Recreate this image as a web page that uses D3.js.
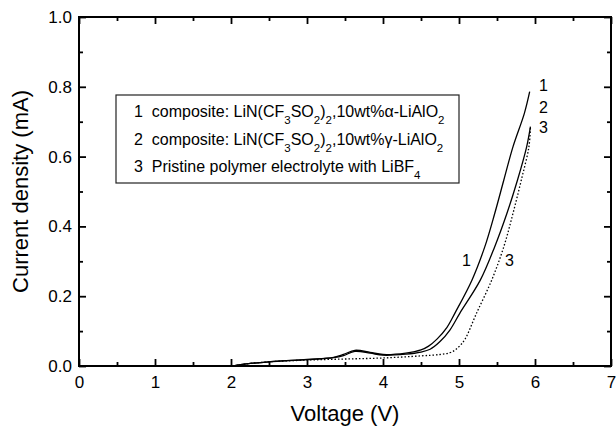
<!DOCTYPE html>
<html>
<head>
<meta charset="utf-8">
<script src="https://cdn.jsdelivr.net/npm/d3@7"></script>
<style>
  body { margin: 0; background: #fff; }
  svg { display: block; font-family: "Liberation Sans", Arial, Helvetica, sans-serif; }
  .tick text { font-size: 17px; fill: #000; }
  .tick line { stroke: #000; stroke-width: 1.8; }
</style>
</head>
<body>
<div class="wrapper"></div>
<script>
// ---- data ----
const xMajor = [0, 1, 2, 3, 4, 5, 6, 7];
const xMinor = [0.5, 1.5, 2.5, 3.5, 4.5, 5.5, 6.5];
const yMajor = [0, 0.2, 0.4, 0.6, 0.8, 1.0];
const yMinor = [0.1, 0.3, 0.5, 0.7, 0.9];

// curve 1 : composite alpha-LiAlO2
const volt1 = [2.03, 2.2, 2.5, 3.0, 3.35, 3.48, 3.63, 3.83, 4.0, 4.3, 4.5, 4.6, 4.71, 4.84, 4.95, 5.17, 5.34, 5.47, 5.59, 5.71, 5.86, 5.93];
const curr1 = [0, 0.006, 0.012, 0.019, 0.025, 0.033, 0.045, 0.039, 0.033, 0.037, 0.046, 0.057, 0.077, 0.110, 0.153, 0.246, 0.342, 0.437, 0.533, 0.628, 0.724, 0.786];

// curve 2 : composite gamma-LiAlO2
const volt2 = [2.03, 2.2, 2.5, 3.0, 3.35, 3.48, 3.63, 3.83, 4.0, 4.3, 4.5, 4.62, 4.75, 4.88, 5.01, 5.28, 5.47, 5.63, 5.77, 5.89, 5.94];
const curr2 = [0, 0.006, 0.012, 0.018, 0.024, 0.030, 0.042, 0.037, 0.031, 0.034, 0.040, 0.048, 0.070, 0.103, 0.151, 0.246, 0.342, 0.437, 0.533, 0.628, 0.686];

// curve 3 : pristine polymer electrolyte
const volt3 = [2.03, 2.2, 2.5, 3.0, 3.5, 4.0, 4.5, 4.75, 4.88, 4.95, 5.02, 5.08, 5.23, 5.43, 5.59, 5.71, 5.82, 5.92, 5.94];
const curr3 = [0, 0.006, 0.012, 0.017, 0.020, 0.023, 0.029, 0.033, 0.038, 0.046, 0.060, 0.077, 0.151, 0.246, 0.342, 0.437, 0.533, 0.628, 0.686];

const legendLines = [
  [["1  composite: LiN(CF", 0], ["3", 1], ["SO", 0], ["2", 1], [")", 0], ["2", 1], [",10wt%α-LiAlO", 0], ["2", 1]],
  [["2  composite: LiN(CF", 0], ["3", 1], ["SO", 0], ["2", 1], [")", 0], ["2", 1], [",10wt%γ-LiAlO", 0], ["2", 1]],
  [["3  Pristine polymer electrolyte with LiBF", 0], ["4", 1]]
];

const width = 616, height = 428;

const svg = d3
  .select(".wrapper")
  .append("svg")
  .attr("width", width)
  .attr("height", height);

const x = d3.scaleLinear().domain([0, 7]).range([79, 611]);
const y = d3.scaleLinear().domain([0, 1]).range([366, 17]);

//////// AXES ////////
function addAxis(axis, tx, ty) {
  const g = svg.append("g").attr("transform", "translate(" + tx + "," + ty + ")").call(axis);
  g.select(".domain").remove();
  return g;
}

addAxis(d3.axisBottom(x).tickValues(xMajor).tickSize(-7).tickPadding(10).tickFormat(d3.format("d")), 0, y(0));
addAxis(d3.axisBottom(x).tickValues(xMinor).tickSize(-4).tickFormat(""), 0, y(0));
addAxis(d3.axisTop(x).tickValues(xMajor).tickSize(-7).tickFormat(""), 0, y(1));
addAxis(d3.axisTop(x).tickValues(xMinor).tickSize(-4).tickFormat(""), 0, y(1));

addAxis(d3.axisLeft(y).tickValues(yMajor).tickSize(-7).tickPadding(7).tickFormat(d3.format(".1f")), x(0), 0);
addAxis(d3.axisLeft(y).tickValues(yMinor).tickSize(-4).tickFormat(""), x(0), 0);
addAxis(d3.axisRight(y).tickValues(yMajor).tickSize(-7).tickFormat(""), x(7), 0);
addAxis(d3.axisRight(y).tickValues(yMinor).tickSize(-4).tickFormat(""), x(7), 0);

svg.selectAll(".tick text").attr("font-family", null).attr("font-size", null);

// frame
svg.append("rect")
  .attr("x", x(0))
  .attr("y", y(1))
  .attr("width", x(7) - x(0))
  .attr("height", y(0) - y(1))
  .attr("fill", "none")
  .attr("stroke", "#000")
  .attr("stroke-width", 2);

// axis titles
svg.append("text")
  .attr("x", (x(0) + x(7)) / 2)
  .attr("y", 421)
  .attr("text-anchor", "middle")
  .style("font-size", "22px")
  .text("Voltage (V)");

svg.append("text")
  .attr("transform", "translate(28," + (y(0) + y(1)) / 2 + ") rotate(-90)")
  .attr("text-anchor", "middle")
  .style("font-size", "22px")
  .text("Current density (mA)");

//////// CURVES ////////
const line = d3.line()
  .x((d) => x(d[0]))
  .y((d) => y(d[1]))
  .curve(d3.curveCatmullRom.alpha(0.5));

const series = [
  { v: volt1, c: curr1, dash: null },
  { v: volt2, c: curr2, dash: null },
  { v: volt3, c: curr3, dash: "1.5,2" }
];

series.forEach((s) => {
  svg.append("path")
    .datum(s.v.map((v, i) => [v, s.c[i]]))
    .attr("d", line)
    .attr("fill", "none")
    .attr("stroke", "#000")
    .attr("stroke-width", 1.3)
    .attr("stroke-dasharray", s.dash);
});

// curve labels
const curveLabels = [
  ["1", 539, 91], ["2", 539, 113], ["3", 539, 133],
  ["1", 462, 266], ["3", 505, 266]
];
svg.selectAll(".clabel")
  .data(curveLabels)
  .enter()
  .append("text")
  .attr("class", "clabel")
  .attr("x", (d) => d[1])
  .attr("y", (d) => d[2])
  .style("font-size", "16px")
  .text((d) => d[0]);

//////// LEGEND ////////
svg.append("rect")
  .attr("x", 116)
  .attr("y", 95)
  .attr("width", 343)
  .attr("height", 88)
  .attr("fill", "none")
  .attr("stroke", "#222")
  .attr("stroke-width", 1.2);

legendLines.forEach((segs, i) => {
  const t = svg.append("text")
    .attr("x", 134)
    .attr("y", 117 + i * 27.5)
    .style("font-size", "16px")
    .style("white-space", "pre");
  let down = false;
  segs.forEach((s) => {
    const sp = t.append("tspan").text(s[0]);
    if (s[1]) {
      sp.attr("dy", down ? 0 : 7).style("font-size", "11.5px");
      down = true;
    } else {
      sp.attr("dy", down ? -7 : 0);
      down = false;
    }
  });
});
</script>
</body>
</html>
